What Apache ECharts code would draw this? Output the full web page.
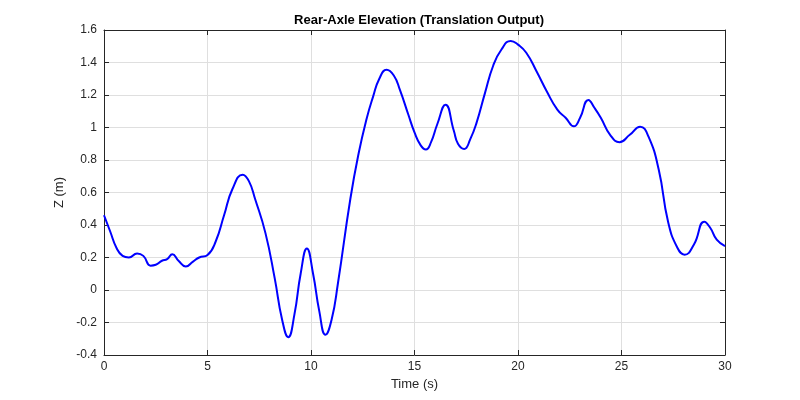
<!DOCTYPE html>
<html>
<head>
<meta charset="utf-8">
<script src="https://cdn.jsdelivr.net/npm/echarts@6/dist/echarts.min.js"></script>
<style>html,body{margin:0;padding:0;background:#fff;}#c{width:800px;height:400px;}</style>
</head>
<body>
<div id="c"></div>
<script>
const timeS = [0.0,0.3,0.6,0.9,1.2,1.6,1.9,2.25,2.5,2.8,3.05,3.3,3.6,3.95,4.3,4.6,5.0,5.4,5.8,6.2,6.7,7.0,7.3,7.8,8.25,8.6,8.9,9.2,9.5,9.8,10.1,10.4,10.7,11.0,11.3,11.9,12.3,12.7,13.0,13.3,13.65,14.0,14.3,14.7,15.0,15.3,15.55,15.8,16.1,16.5,16.9,17.1,17.4,17.7,18.0,18.4,18.8,19.2,19.65,20.0,20.4,20.9,21.4,21.9,22.3,22.7,23.0,23.4,23.7,24.0,24.45,24.9,25.4,25.9,26.3,26.8,27.25,27.7,28.05,28.5,29.0,29.3,29.6,30.0];
const elevation = [0.46,0.36,0.26,0.21,0.20,0.225,0.21,0.15,0.155,0.18,0.19,0.22,0.18,0.145,0.175,0.20,0.215,0.30,0.46,0.62,0.71,0.67,0.56,0.35,0.07,-0.18,-0.29,-0.15,0.10,0.255,0.10,-0.13,-0.275,-0.18,0.04,0.56,0.84,1.06,1.19,1.30,1.355,1.32,1.23,1.08,0.97,0.89,0.865,0.91,1.02,1.14,0.98,0.90,0.868,0.93,1.03,1.21,1.38,1.48,1.533,1.51,1.46,1.345,1.22,1.11,1.06,1.007,1.06,1.17,1.12,1.06,0.955,0.91,0.955,1.005,0.945,0.74,0.42,0.26,0.217,0.28,0.42,0.38,0.31,0.27];
const titleText = 'Rear-Axle Elevation (Translation Output)';
const xName = 'Time (s)';
const yName = 'Z (m)';

const axisColor = '#262626';
const gridColor = '#dfdfdf';
const font = 'Liberation Sans, Arial, Helvetica, sans-serif';

const chart = echarts.init(document.getElementById('c'));
const baseX = {
  type: 'value', min: 0, max: 30, interval: 5,
  axisLine: { show: true, onZero: false, lineStyle: { color: axisColor, width: 1 } },
  axisTick: { show: true, inside: true, length: 5, lineStyle: { color: axisColor } }
};
const baseY = {
  type: 'value', min: -0.4, max: 1.6, interval: 0.2,
  axisLine: { show: true, onZero: false, lineStyle: { color: axisColor, width: 1 } },
  axisTick: { show: true, inside: true, length: 5, lineStyle: { color: axisColor } }
};
chart.setOption({
  backgroundColor: '#fff',
  animation: false,
  title: {
    text: titleText, left: 414, top: 9, textAlign: 'center',
    textStyle: { fontFamily: font, fontSize: 13, fontWeight: 'bold', color: '#000' }
  },
  grid: { left: 104, right: 75, top: 30, bottom: 45, containLabel: false },
  xAxis: [
    Object.assign({}, baseX, {
      position: 'bottom',
      name: xName, nameLocation: 'middle', nameGap: 22,
      nameTextStyle: { fontFamily: font, fontSize: 13, color: axisColor },
      axisLabel: { fontFamily: font, fontSize: 12, color: axisColor, margin: 6 },
      splitLine: { show: true, lineStyle: { color: gridColor, width: 1 } }
    }),
    Object.assign({}, baseX, {
      position: 'top', axisLabel: { show: false }, splitLine: { show: false }
    })
  ],
  yAxis: [
    Object.assign({}, baseY, {
      position: 'left',
      name: yName, nameLocation: 'middle', nameGap: 36, nameRotate: 90,
      nameTextStyle: { fontFamily: font, fontSize: 13, color: axisColor },
      axisLabel: { fontFamily: font, fontSize: 12, color: axisColor, margin: 7,
        formatter: v => String(Math.round(v * 10) / 10) },
      splitLine: { show: true, lineStyle: { color: gridColor, width: 1 } }
    }),
    Object.assign({}, baseY, {
      position: 'right', axisLabel: { show: false }, splitLine: { show: false }
    })
  ],
  series: [{
    type: 'line',
    xAxisIndex: 0, yAxisIndex: 0,
    data: timeS.map((t, i) => [t, elevation[i]]),
    smooth: 0.5,
    showSymbol: false,
    lineStyle: { color: '#0000ff', width: 2 },
    itemStyle: { color: '#0000ff' }
  }]
});
</script>
</body>
</html>
